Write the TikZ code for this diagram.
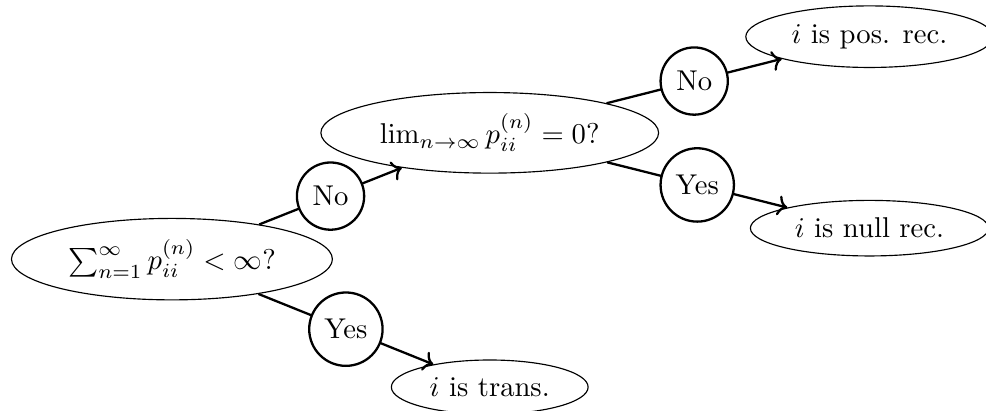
\documentclass[tikz,border=0pt]{standalone}
\usepackage{amsmath,amssymb}
\usepackage{tikz}
\usetikzlibrary{shapes.geometric,arrows.meta}

\begin{document}
\begin{tikzpicture}[
  test/.style={draw, ellipse},
  answer/.style={draw, circle, thick, fill=white}]

  \useasboundingbox (0,0) rectangle (12.10,5.04);

  \node[test] (sum)   at (2.11, 1.86) {$\sum_{n=1}^\infty p_{ii}^{(n)} < \infty$?};
  \node[test] (lim)   at (6.01, 3.41) {$\lim_{n\to\infty} p_{ii}^{(n)} = 0$?};
  \node[test] (trans) at (6.01, 0.29) {$i$ is trans.};
  \node[test] (pos)   at (10.67, 4.59) {$i$ is pos. rec.};
  \node[test] (null)  at (10.67, 2.24) {$i$ is null rec.};

  \draw[->, thick] (sum) -- node[answer]{No}  (lim);
  \draw[->, thick] (sum) -- node[answer]{Yes} (trans);
  \draw[->, thick] (lim) -- node[answer]{No}  (pos);
  \draw[->, thick] (lim) -- node[answer]{Yes} (null);
\end{tikzpicture}
\end{document}
